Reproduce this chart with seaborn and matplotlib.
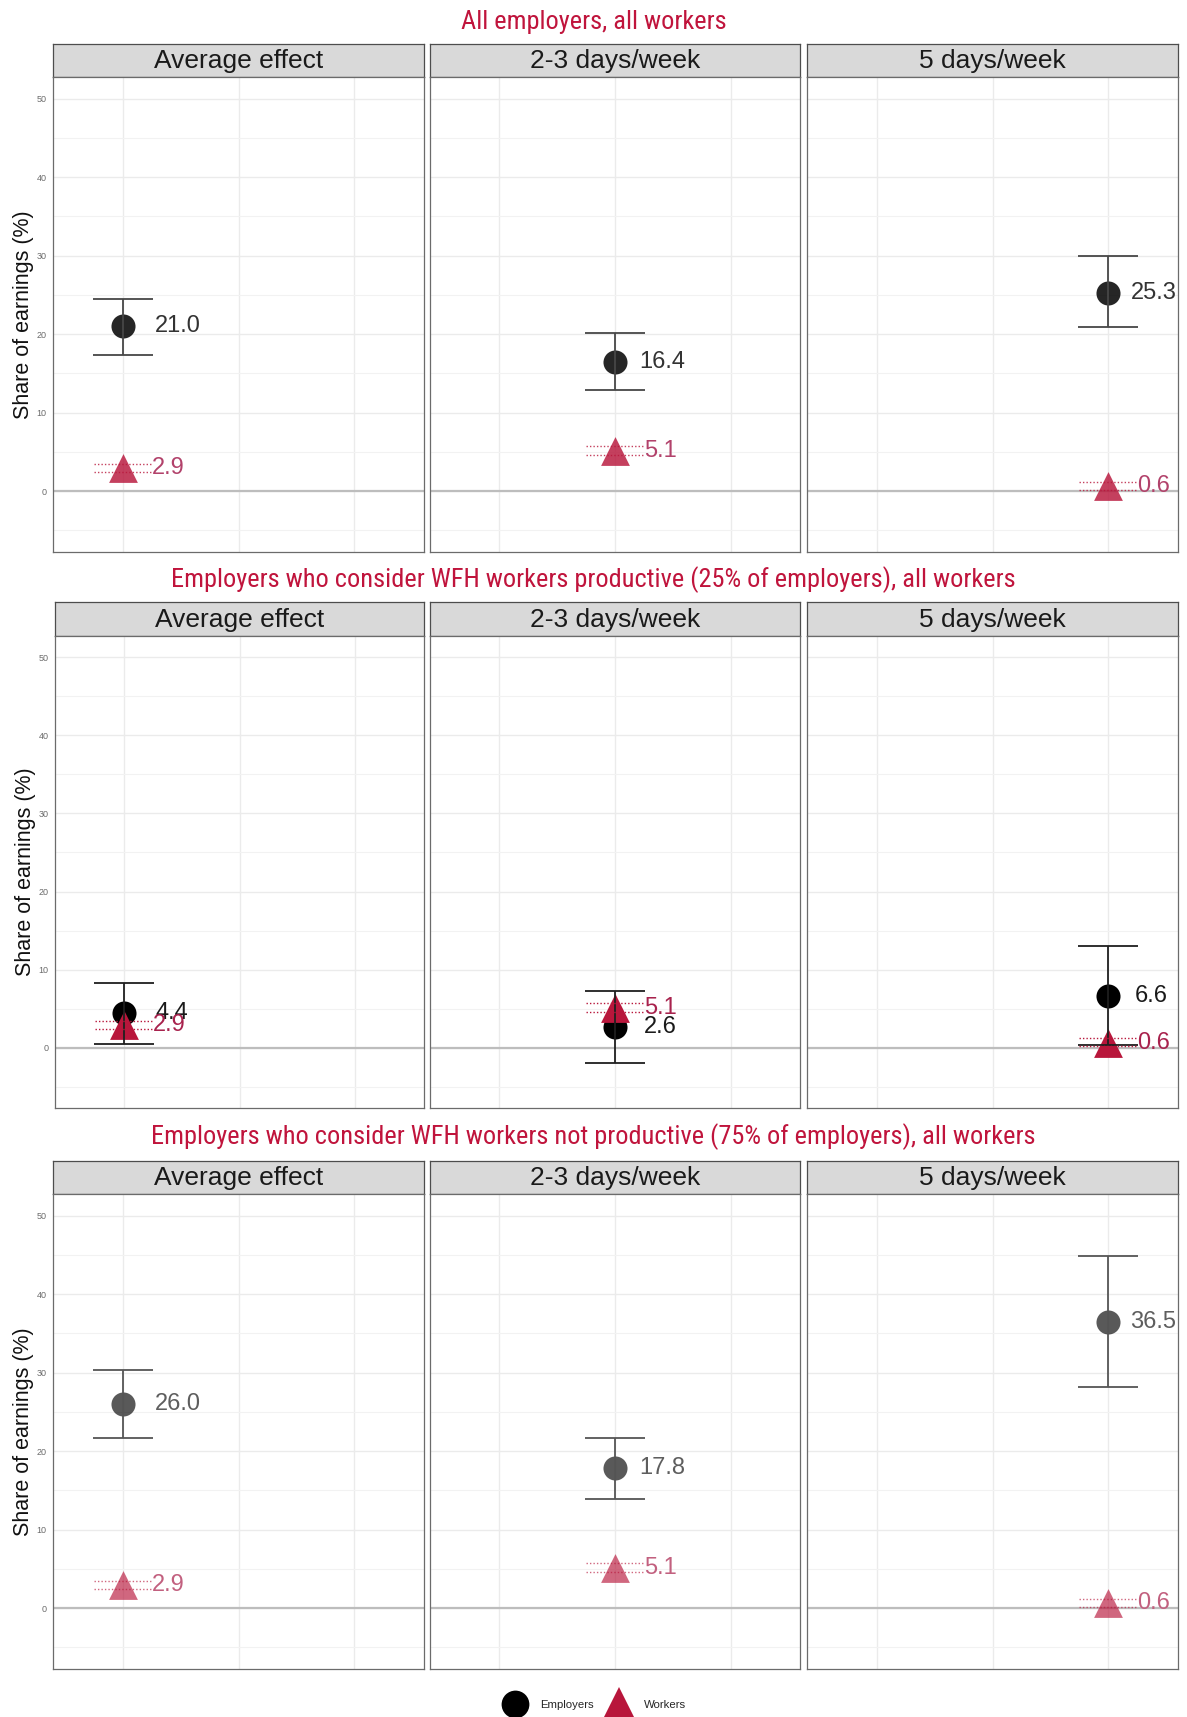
import matplotlib
matplotlib.use("Agg")
import matplotlib.pyplot as plt
from matplotlib import font_manager
from matplotlib.lines import Line2D
import numpy as np
import pandas as pd
import seaborn as sns

# ---- data -------------------------------------------------------------
panels = ["Average effect", "2-3 days/week", "5 days/week"]
group_titles = [
    "All employers, all workers",
    "Employers who consider WFH workers productive (25% of employers), all workers",
    "Employers who consider WFH workers not productive (75% of employers), all workers",
]

employer_est_all = [21.0, 16.4, 25.3]
employer_lo_all = [17.4, 12.9, 20.9]
employer_hi_all = [24.5, 20.1, 29.9]

employer_est_prod = [4.4, 2.6, 6.6]
employer_lo_prod = [0.4, -2.0, 0.3]
employer_hi_prod = [8.3, 7.2, 13.0]

employer_est_notprod = [26.0, 17.8, 36.5]
employer_lo_notprod = [21.7, 13.9, 28.2]
employer_hi_notprod = [30.3, 21.7, 44.8]

worker_est = [2.9, 5.1, 0.6]
worker_lo = [2.4, 4.6, 0.2]
worker_hi = [3.4, 5.7, 1.2]

y_ticks = [0, 10, 20, 30, 40, 50]
y_label = "Share of earnings (%)"
legend_labels = ["Employers", "Workers"]

# ---- long table ---------------------------------------------------------
employer_sets = [
    (employer_est_all, employer_lo_all, employer_hi_all),
    (employer_est_prod, employer_lo_prod, employer_hi_prod),
    (employer_est_notprod, employer_lo_notprod, employer_hi_notprod),
]
records = []
for g, (est, lo, hi) in enumerate(employer_sets):
    for p, name in enumerate(panels):
        records.append(dict(row=g, panel=p, pos=p, group="Employers",
                            value=est[p], lo=lo[p], hi=hi[p]))
        records.append(dict(row=g, panel=p, pos=p, group="Workers",
                            value=worker_est[p], lo=worker_lo[p], hi=worker_hi[p]))
df = pd.DataFrame(records)

# ---- style --------------------------------------------------------------
sns.set_theme(style="white")
names = {f.name for f in font_manager.fontManager.ttflist}
base_font = "Liberation Sans" if "Liberation Sans" in names else "DejaVu Sans"
title_font = next((n for n in ["Roboto Condensed", "Liberation Sans Narrow", "Roboto"]
                   if n in names), base_font)
plt.rcParams["font.family"] = [base_font, "DejaVu Sans"]

W, H = 1187, 1717
fig = plt.figure(figsize=(W / 100, H / 100), dpi=100)
fig.patch.set_facecolor("white")


def frect(x0, y0, x1, y1):
    return [x0 / W, 1 - y1 / H, (x1 - x0) / W, (y1 - y0) / H]


CRIMSON = "#b8163b"
TITLE_RED = "#c0143c"
rows_layout = [
    dict(title_y=22, strip_top=44, strip_bot=77, bottom=552, lefts=[53, 430, 807]),
    dict(title_y=580, strip_top=602, strip_bot=636, bottom=1108, lefts=[55, 430, 807]),
    dict(title_y=1137, strip_top=1161, strip_bot=1194, bottom=1669, lefts=[53, 430, 807]),
]
rights = [424, 800, 1178]

# per-row appearance: marker alphas, label colours, interval colour, label offsets
row_style = [
    dict(ea=0.85, wa=0.82, et="#333333", wt="#b2426b", ec="#474747",
         nudge=[0.28, 0.21, 0.19]),
    dict(ea=1.0, wa=1.0, et="#1a1a1a", wt="#a8224d", ec="#1f1f1f",
         nudge=[0.27, 0.25, 0.23]),
    dict(ea=0.65, wa=0.65, et="#5e5e5e", wt="#c2607f", ec="#555555",
         nudge=[0.28, 0.21, 0.19]),
]

for r, lay in enumerate(rows_layout):
    st = row_style[r]
    fig.text(0.5, 1 - lay["title_y"] / H, group_titles[r], ha="center", va="center",
             color=TITLE_RED, fontsize=19, family=[title_font, "DejaVu Sans"])
    for p in range(3):
        x0, x1 = lay["lefts"][p], rights[p]
        # strip
        sax = fig.add_axes(frect(x0, lay["strip_top"], x1, lay["strip_bot"]))
        sax.set_facecolor("#d9d9d9")
        sax.set_xticks([]); sax.set_yticks([])
        for s in sax.spines.values():
            s.set_color("#4d4d4d"); s.set_linewidth(0.9)
        sax.text(0.5, 0.47, panels[p], ha="center", va="center", fontsize=19,
                 color="#1a1a1a", transform=sax.transAxes)

        ax = fig.add_axes(frect(x0, lay["strip_bot"], x1, lay["bottom"]))
        ax.set_xlim(-0.6, 2.6)
        ax.set_ylim(-7.75, 52.75)
        ax.set_yticks(y_ticks)
        ax.set_yticks([-5, 5, 15, 25, 35, 45], minor=True)
        ax.set_xticks([0, 1, 2])
        ax.set_xticklabels([])
        ax.grid(True, which="major", color="#ebebeb", linewidth=1.0)
        ax.grid(True, which="minor", axis="y", color="#f2f2f2", linewidth=0.8)
        ax.set_axisbelow(True)
        for s in ax.spines.values():
            s.set_color("#6b6b6b"); s.set_linewidth(0.9)
        ax.tick_params(axis="both", which="major", length=3, width=0.6, color="#444444",
                       labelsize=6.5, labelcolor="#6b6b6b", pad=1.5)
        ax.tick_params(axis="both", which="minor", length=0)

        sub = df[(df.row == r) & (df.panel == p)]
        emp = sub[sub.group == "Employers"]
        wrk = sub[sub.group == "Workers"]

        sns.scatterplot(data=emp, x="pos", y="value", marker="o", s=300, color="black",
                        alpha=st["ea"], linewidth=0, legend=False, ax=ax, zorder=3)
        sns.scatterplot(data=wrk, x="pos", y="value", marker="^", s=430, color=CRIMSON,
                        alpha=st["wa"], linewidth=0, legend=False, ax=ax, zorder=4)
        ax.set_xlabel("")
        if p == 0:
            ax.set_yticklabels([str(t) for t in y_ticks])
            ax.set_ylabel(y_label, fontsize=15.5, color="#111111", labelpad=2)
        else:
            ax.set_yticklabels([])
            ax.tick_params(axis="y", length=0)
            ax.set_ylabel("")
        ax.axhline(0, color="#bdbdbd", linewidth=1.6, zorder=1)

        # employer confidence interval
        e = emp.iloc[0]
        ax.errorbar(e.pos, e.value, yerr=[[e.value - e.lo], [e.hi - e.value]], fmt="none",
                    ecolor=st["ec"], elinewidth=1.3, capsize=21.5, capthick=1.3, zorder=5)
        # worker interval as dotted bounds
        w = wrk.iloc[0]
        ax.hlines([w.lo, w.hi], w.pos - 0.25, w.pos + 0.25, colors=CRIMSON,
                  linestyles=(0, (1, 1.5)), linewidth=1.0, alpha=st["wa"], zorder=5)

        ax.text(e.pos + st["nudge"][p], e.value, f"{e.value:.1f}", ha="left", va="center",
                fontsize=17, color=st["et"], zorder=6, clip_on=False)
        ax.text(w.pos + 0.25, w.value, f"{w.value:.1f}", ha="left", va="center",
                fontsize=17, color=st["wt"], zorder=6)

handles = [
    Line2D([], [], marker="o", linestyle="none", markersize=20, color="black",
           markeredgewidth=0),
    Line2D([], [], marker="^", linestyle="none", markersize=24, color=CRIMSON,
           markeredgewidth=0),
]
fig.legend(handles, legend_labels, loc="center", bbox_to_anchor=(0.5, 1 - 1705 / H),
           ncol=2, frameon=False, fontsize=8.2, handletextpad=1.0, columnspacing=1.0,
           handlelength=2.4)

fig.savefig("out.png", dpi=100, facecolor="white")
